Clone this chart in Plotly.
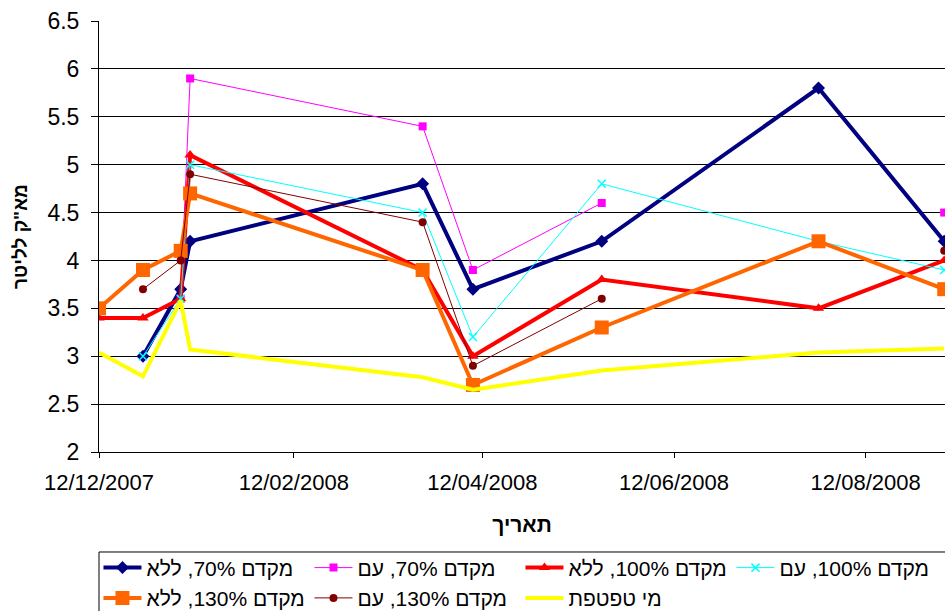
import plotly.graph_objects as go

dates = ["2007-12-12", "2007-12-26", "2008-01-07", "2008-01-10", "2008-03-24",
         "2008-04-09", "2008-05-20", "2008-07-28", "2008-09-06"]

series_names = ["מקדם 70%, ללא", "מקדם 70%, עם", "מקדם 100%, ללא", "מקדם 100%, עם",
                "מקדם 130%, ללא", "מקדם 130%, עם", "מי טפטפת"]

k70_without = [None, 3.0, 3.7, 4.2, 4.8, 3.7, 4.2, 5.8, 4.2]
k70_with = [None, None, 3.6, 5.9, 5.4, 3.9, 4.6, None, 4.5]
k100_without = [3.4, 3.4, 3.6, 5.1, 3.9, 3.0, 3.8, 3.5, 4.0]
k100_with = [None, 3.0, 3.6, 5.0, 4.5, 3.2, 4.8, 4.2, 3.9]
k130_without = [3.5, 3.9, 4.1, 4.7, 3.9, 2.7, 3.3, 4.2, 3.7]
k130_with = [None, 3.7, 4.0, 4.9, 4.4, 2.9, 3.6, None, 4.1]
drip_water = [3.04, 2.79, 3.58, 3.07, 2.78, 2.65, 2.85, 3.04, 3.08]

y_title = 'מא"ק לליטר'
x_title = "תאריך"

values = [k70_without, k70_with, k100_without, k100_with, k130_without, k130_with, drip_water]
styles = [
    dict(color="#000080", width=4, symbol="diamond", size=10, mlw=0),
    dict(color="#FF00FF", width=1, symbol="square", size=8, mlw=0),
    dict(color="#FF0000", width=4, symbol="triangle-up", size=10, mlw=0),
    dict(color="#00FFFF", width=1, symbol="x-thin", size=8, mlw=1.5),
    dict(color="#FF6600", width=4, symbol="square", size=14, mlw=0),
    dict(color="#800000", width=1, symbol="circle", size=8, mlw=0),
    dict(color="#FFFF00", width=4, symbol=None, size=0, mlw=0),
]

FONT = "Liberation Sans, Arial, sans-serif"
fig = go.Figure()
for name, vals, st in zip(series_names, values, styles):
    label = "\u202b" + name + "\u202c"
    if st["symbol"] is None:
        fig.add_trace(go.Scatter(x=dates, y=vals, name=label, mode="lines",
                                 line=dict(color=st["color"], width=st["width"])))
    else:
        fig.add_trace(go.Scatter(
            x=dates, y=vals, name=label, mode="lines+markers",
            line=dict(color=st["color"], width=st["width"]),
            marker=dict(symbol=st["symbol"], size=st["size"], color=st["color"],
                        line=dict(color=st["color"], width=st["mlw"])),
            connectgaps=False))

fig.update_layout(
    width=945, height=611,
    margin=dict(l=99, r=0, t=21, b=159),
    paper_bgcolor="white", plot_bgcolor="white",
    font=dict(family=FONT, size=21, color="black"),
    showlegend=True,
    legend=dict(orientation="h", xref="container", yref="container",
                x=0.1042, xanchor="left", y=0.104, yanchor="top",
                borderwidth=0, bgcolor="rgba(0,0,0,0)",
                entrywidth=158, entrywidthmode="pixels", itemwidth=38,
                font=dict(family=FONT, size=21, color="black"),
                traceorder="normal"),
    shapes=[dict(type="rect", xref="paper", yref="paper", x0=0, x1=1.02,
                 y0=-0.232, y1=-0.45, line=dict(color="black", width=1),
                 fillcolor="rgba(0,0,0,0)", layer="below")],
)
fig.update_xaxes(
    type="date", range=["2007-12-12", "2008-09-06 06:00"],
    tick0="2007-12-12", dtick="M2", tickformat="%d/%m/%Y",
    ticks="outside", ticklen=5, tickcolor="black", ticklabelstandoff=6,
    showline=True, linecolor="black", linewidth=1, showgrid=False, automargin=False,
    tickfont=dict(family=FONT, size=22, color="black"),
    title=dict(text="<b>" + x_title + "</b>", font=dict(family=FONT, size=21, color="black"), standoff=22),
)
fig.update_yaxes(
    range=[2, 6.5], dtick=0.5, tick0=2,
    ticks="outside", ticklen=7, tickcolor="black", ticklabelstandoff=7,
    showline=True, linecolor="black", linewidth=1, automargin=False,
    showgrid=True, gridcolor="black", gridwidth=1, zeroline=False,
    tickfont=dict(family=FONT, size=23, color="black"),
    title=dict(text="<b>" + y_title + "</b>", font=dict(family=FONT, size=19, color="black"), standoff=14),
)

fig.write_html("out.html", config={"displayModeBar": False},
               post_script="document.body.style.margin='0';document.body.style.overflow='hidden';")
